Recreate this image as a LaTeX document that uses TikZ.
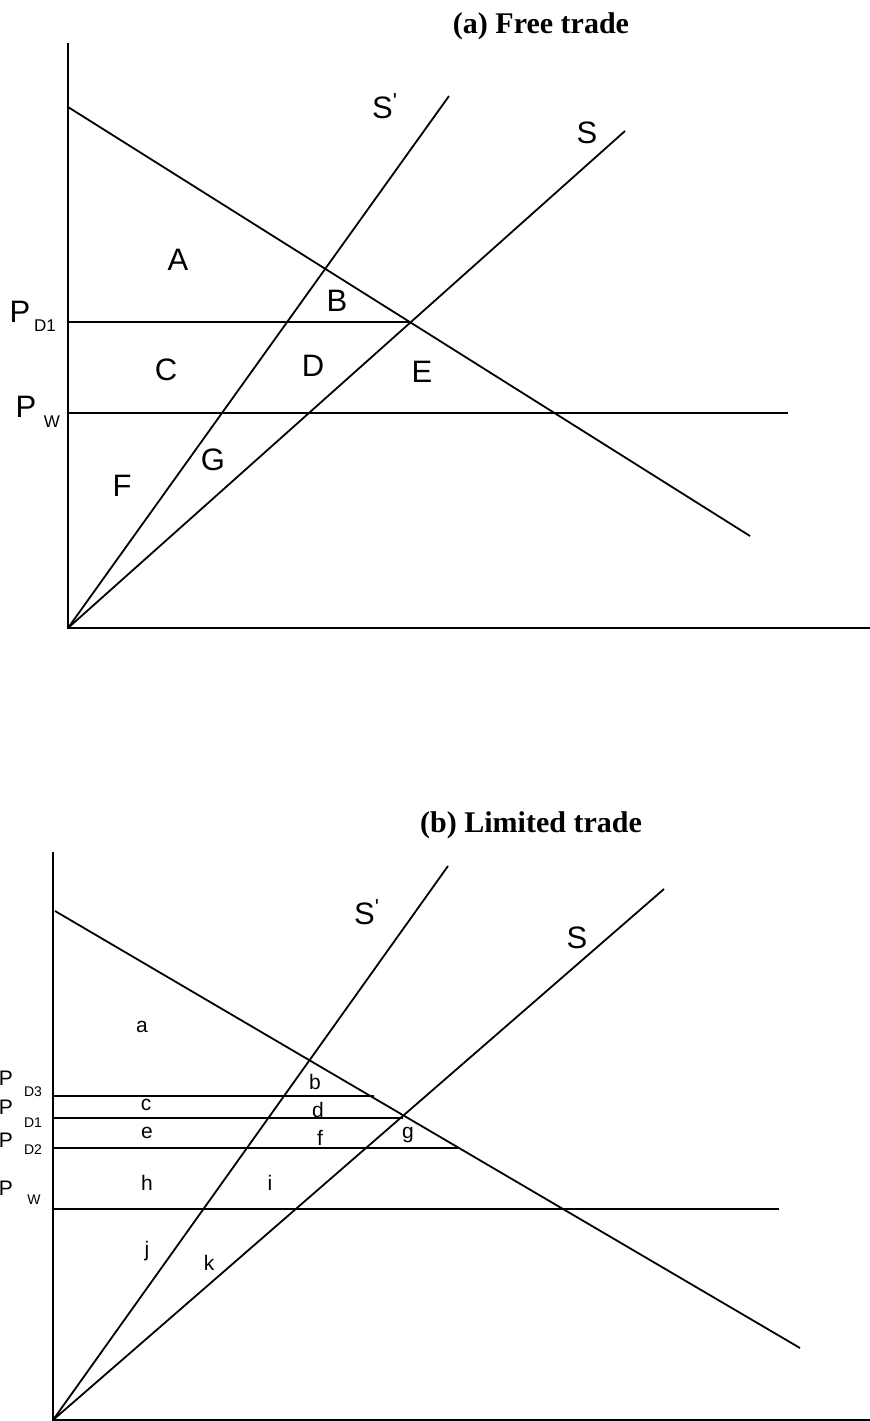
\documentclass[tikz,border=0pt]{standalone}
\usepackage{fontspec}
\setmainfont{Liberation Serif}
\setsansfont{Liberation Sans}
\begin{document}
\begin{tikzpicture}[x=0.5pt, y=-0.5pt, line width=0.9pt,
    title/.style={font=\bfseries\fontsize{15}{17}\selectfont, inner sep=0pt, anchor=base},
    big/.style={font=\sffamily\fontsize{15.5}{17}\selectfont, inner sep=0pt},
    bigsub/.style={font=\sffamily\fontsize{8.5}{10}\selectfont, inner sep=0pt},
    small/.style={font=\sffamily\fontsize{10.5}{12}\selectfont, inner sep=0pt},
    smallsub/.style={font=\sffamily\fontsize{7}{8}\selectfont, inner sep=0pt}]
    \useasboundingbox (0,0) rectangle (870,1421);

    % (a) free trade
    \node[title] (ta) at (541,33) {(a) Free trade};
    \coordinate (aO) at (68,628); \coordinate (aY) at (68,43); \coordinate (aX) at (870,628);
    \coordinate (aD0) at (68,107); \coordinate (aD1) at (750,536);
    \coordinate (aSp) at (449,96); \coordinate (aS) at (625,131);
    \coordinate (aPd0) at (68,322); \coordinate (aPd1) at (412,322);
    \coordinate (aPw0) at (68,413); \coordinate (aPw1) at (788,413);
    \draw (aY)--(aO)--(aX);
    \draw (aD0)--(aD1); \draw (aO)--(aSp); \draw (aO)--(aS);
    \draw (aPd0)--(aPd1); \draw (aPw0)--(aPw1);

    \node[big] (aSpl) at (385,106) {S\textsuperscript{\textquotesingle}};
    \node[big] (aSl) at (587,133) {S};
    \node[big] (aPdP) at (20,312) {P}; \node[bigsub] (aPdS) at (45,326) {D1};
    \node[big] (aPwP) at (26,407) {P}; \node[bigsub] (aPwS) at (52,422) {W};
    \node[big] (A) at (178,260) {A};
    \node[big] (B) at (337,301) {B};
    \node[big] (C) at (166,370) {C};
    \node[big] (D) at (313,366) {D};
    \node[big] (E) at (422,372) {E};
    \node[big] (F) at (122,486) {F};
    \node[big] (G) at (213,460) {G};

    % (b) limited trade
    \node[title] (tb) at (531,832) {(b) Limited trade};
    \coordinate (bO) at (53,1420); \coordinate (bY) at (53,852); \coordinate (bX) at (870,1420);
    \coordinate (bD0) at (55,911); \coordinate (bD1) at (800,1348);
    \coordinate (bSp) at (448,866); \coordinate (bS) at (664,889);
    \coordinate (bP30) at (53,1096); \coordinate (bP31) at (374,1096);
    \coordinate (bP10) at (53,1118); \coordinate (bP11) at (403,1118);
    \coordinate (bP20) at (53,1148); \coordinate (bP21) at (458,1148);
    \coordinate (bPw0) at (53,1209); \coordinate (bPw1) at (779,1209);
    \draw (bY)--(bO)--(bX);
    \draw (bD0)--(bD1); \draw (bO)--(bSp); \draw (bO)--(bS);
    \draw (bP30)--(bP31); \draw (bP10)--(bP11); \draw (bP20)--(bP21); \draw (bPw0)--(bPw1);

    \node[big] (bSpl) at (367,912) {S\textsuperscript{\textquotesingle}};
    \node[big] (bSl) at (577,938) {S};
    \node[small] (bP3P) at (6,1078) {P}; \node[smallsub] (bP3S) at (33,1092) {D3};
    \node[small] (bP1P) at (6,1107) {P}; \node[smallsub] (bP1S) at (33,1123) {D1};
    \node[small] (bP2P) at (6,1140) {P}; \node[smallsub] (bP2S) at (33,1150) {D2};
    \node[small] (bPwP) at (6,1188) {P}; \node[smallsub] (bPwS) at (34,1200) {W};
    \node[small] (a) at (142,1027) {a};
    \node[small] (b) at (315,1082) {b};
    \node[small] (c) at (146,1105) {c};
    \node[small] (d) at (318,1110) {d};
    \node[small] (e) at (147,1133) {e};
    \node[small] (f) at (320,1138) {f};
    \node[small] (g) at (408,1135) {g};
    \node[small] (h) at (147,1183) {h};
    \node[small] (i) at (270,1183) {i};
    \node[small] (j) at (147,1251) {j};
    \node[small] (k) at (209,1263) {k};
\end{tikzpicture}
\end{document}
